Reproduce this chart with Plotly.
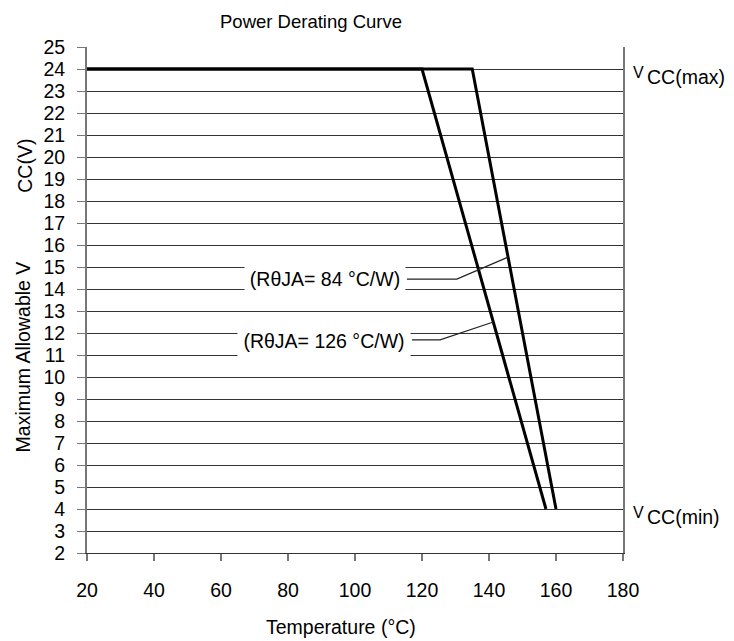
import numpy as np
import plotly.graph_objects as go

# ---- data ----
temp_126 = [20, 120, 157]      # RθJA = 126 °C/W
vcc_126 = [24, 24, 4]
temp_84 = [20, 135, 160]       # RθJA = 84 °C/W
vcc_84 = [24, 24, 4]
vcc_max = 24
vcc_min = 4
x_ticks = [20, 40, 60, 80, 100, 120, 140, 160, 180]
y_ticks = list(range(2, 26))

label_84 = "(RθJA= 84 °C/W)"
label_126 = "(RθJA= 126 °C/W)"
# label centre (data coords) and leader elbow
lab84_pos = (91.0, 14.45)
lab126_pos = (90.7, 11.62)
lead84_x = [115.5, 130.4]
lead84_y = 14.45
lead84_target_v = 15.45
lead126_x = [117.0, 125.4]
lead126_y = 11.69
lead126_target_v = 12.5

FONT = "Liberation Sans, Arial, sans-serif"
FS = 19.5

fig = go.Figure()

fig.add_trace(go.Scatter(x=temp_126, y=vcc_126, mode="lines",
                         line=dict(color="black", width=3), showlegend=False))
fig.add_trace(go.Scatter(x=temp_84, y=vcc_84, mode="lines",
                         line=dict(color="black", width=3), showlegend=False))

# leader lines: elbow to point on curves
t84 = float(np.interp(lead84_target_v, vcc_84[::-1], temp_84[::-1]))
t126 = float(np.interp(lead126_target_v, vcc_126[::-1], temp_126[::-1]))
fig.add_trace(go.Scatter(x=[lead84_x[0], lead84_x[1], t84],
                         y=[lead84_y, lead84_y, lead84_target_v],
                         mode="lines", line=dict(color="#222", width=1.2),
                         showlegend=False))
fig.add_trace(go.Scatter(x=[lead126_x[0], lead126_x[1], t126],
                         y=[lead126_y, lead126_y, lead126_target_v],
                         mode="lines", line=dict(color="#222", width=1.2),
                         showlegend=False))

ann = []
ann.append(dict(x=lab84_pos[0], y=lab84_pos[1], xref="x", yref="y",
                text=label_84, showarrow=False, bgcolor="white",
                width=160, height=36, borderpad=0,
                font=dict(size=FS, color="black", family=FONT)))
ann.append(dict(x=lab126_pos[0], y=lab126_pos[1], xref="x", yref="y",
                text=label_126, showarrow=False, bgcolor="white",
                width=172, height=36, borderpad=0,
                font=dict(size=FS, color="black", family=FONT)))

# VCC labels on the right
for v, sub in [(vcc_max, "CC(max)"), (vcc_min, "CC(min)")]:
    ann.append(dict(x=1.029, y=v, xref="paper", yref="y", text="V",
                    showarrow=False, yshift=-3, xanchor="center",
                    font=dict(size=16, color="black", family=FONT)))
    ann.append(dict(x=1.041, y=v, xref="paper", yref="y", text=sub,
                    showarrow=False, yshift=-8, xanchor="left",
                    font=dict(size=FS, color="black", family=FONT)))

# title
ann.append(dict(x=0.418, y=1.076, xref="paper", yref="paper",
                text="Power Derating Curve", showarrow=False,
                xanchor="center", yanchor="top",
                font=dict(size=18.5, color="black", family=FONT)))
# y axis title (two parts)
ann.append(dict(x=-0.119, y=0.387, xref="paper", yref="paper",
                text="Maximum Allowable V", showarrow=False, textangle=-90,
                xanchor="center", yanchor="middle",
                font=dict(size=FS, color="black", family=FONT)))
ann.append(dict(x=-0.116, y=0.765, xref="paper", yref="paper",
                text="CC(V)", showarrow=False, textangle=-90,
                xanchor="center", yanchor="middle",
                font=dict(size=FS, color="black", family=FONT)))
# x axis title
ann.append(dict(x=0.474, y=-0.146, xref="paper", yref="paper",
                text="Temperature (°C)", showarrow=False,
                xanchor="center", yanchor="middle",
                font=dict(size=FS, color="black", family=FONT)))

# page body adds an 8px offset, so the figure is 8px smaller on each leading edge
fig.update_layout(
    width=726, height=633,
    margin=dict(l=79, r=111, t=39, b=88, autoexpand=False),
    paper_bgcolor="white", plot_bgcolor="white",
    annotations=ann,
    font=dict(family=FONT, size=FS, color="black"),
    xaxis=dict(range=[20, 180], tickvals=x_ticks, showgrid=False,
               zeroline=False, showline=True, linecolor="#333", linewidth=1,
               ticks="outside", ticklen=7, tickcolor="#777", tickwidth=2,
               ticklabelstandoff=13,
               tickfont=dict(size=FS, color="black", family=FONT)),
    yaxis=dict(range=[2, 25], tickvals=y_ticks, showgrid=True,
               gridcolor="#333", gridwidth=1, zeroline=False,
               showline=True, linecolor="#777", linewidth=2, mirror=True,
               ticks="outside", ticklen=8, tickcolor="#777", tickwidth=1,
               ticklabelstandoff=8,
               tickfont=dict(size=FS, color="black", family=FONT)),
)

fig.write_html("out.html")
